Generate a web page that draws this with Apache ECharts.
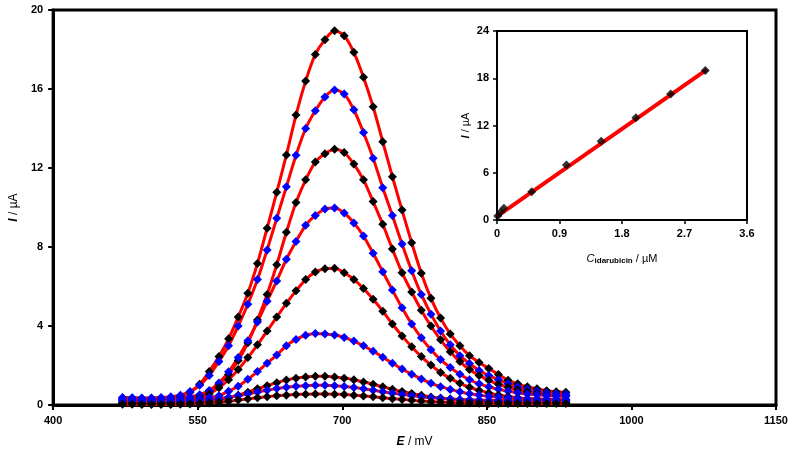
<!DOCTYPE html>
<html>
<head>
<meta charset="utf-8">
<script src="https://cdn.jsdelivr.net/npm/echarts@6/dist/echarts.min.js"></script>
<style>
  html, body { margin: 0; padding: 0; background: #fff; }
  #main { width: 800px; height: 460px; }
</style>
</head>
<body>
<div id="main"></div>
<script>
// potential (mV), one reading every 10 mV
var E = [472, 482, 492, 502, 512, 522, 532, 542, 552, 562, 572, 582, 592, 602, 612, 622,
         632, 642, 652, 662, 672, 682, 692, 702, 712, 722, 732, 742, 752, 762, 772, 782,
         792, 802, 812, 822, 832, 842, 852, 862, 872, 882, 892, 902, 912, 922, 932];

// current (uA) for each concentration
var c3_0 = [0.25, 0.24, 0.24, 0.25, 0.28, 0.35, 0.45, 0.65, 1.05, 1.7, 2.45, 3.35, 4.45, 5.66, 7.17, 8.95,
            10.77, 12.66, 14.68, 16.4, 17.75, 18.5, 18.95, 18.7, 17.86, 16.6, 15.1, 13.33, 11.56, 9.87, 8.22, 6.67,
            5.4, 4.4, 3.6, 3.0, 2.5, 2.15, 1.85, 1.55, 1.25, 1.07, 0.92, 0.82, 0.72, 0.67, 0.65];
var c2_5 = [0.38, 0.37, 0.36, 0.36, 0.38, 0.42, 0.5, 0.68, 1.0, 1.5, 2.2, 3.0, 4.0, 5.1, 6.35, 7.85,
            9.45, 11.05, 12.65, 14.0, 14.9, 15.6, 15.95, 15.75, 14.95, 13.8, 12.5, 11.0, 9.6, 8.15, 6.8, 5.6,
            4.6, 3.75, 3.05, 2.5, 2.1, 1.75, 1.5, 1.28, 1.08, 0.92, 0.8, 0.7, 0.62, 0.57, 0.55];
var c2_0 = [0.15, 0.14, 0.14, 0.15, 0.16, 0.19, 0.24, 0.33, 0.47, 0.7, 1.05, 1.55, 2.25, 3.15, 4.3, 5.6,
            7.1, 8.75, 10.25, 11.4, 12.3, 12.72, 12.95, 12.78, 12.2, 11.4, 10.3, 9.15, 7.9, 6.7, 5.72, 4.8,
            4.0, 3.3, 2.7, 2.2, 1.8, 1.5, 1.25, 1.05, 0.9, 0.77, 0.67, 0.58, 0.52, 0.47, 0.45];
var c1_5 = [0.36, 0.35, 0.34, 0.34, 0.34, 0.35, 0.37, 0.42, 0.52, 0.74, 1.12, 1.68, 2.4, 3.25, 4.2, 5.25,
            6.28, 7.38, 8.28, 9.1, 9.6, 9.92, 9.97, 9.72, 9.22, 8.56, 7.68, 6.75, 5.82, 4.92, 4.1, 3.4,
            2.8, 2.3, 1.9, 1.56, 1.28, 1.07, 0.92, 0.8, 0.7, 0.62, 0.56, 0.52, 0.48, 0.46, 0.45];
var c1_0 = [0.1, 0.09, 0.09, 0.09, 0.1, 0.12, 0.16, 0.23, 0.36, 0.56, 0.87, 1.28, 1.8, 2.4, 3.05, 3.75,
            4.45, 5.15, 5.78, 6.35, 6.73, 6.9, 6.93, 6.7, 6.36, 5.9, 5.35, 4.75, 4.1, 3.5, 2.95, 2.45,
            2.02, 1.65, 1.35, 1.1, 0.9, 0.74, 0.61, 0.51, 0.43, 0.37, 0.32, 0.28, 0.25, 0.23, 0.22];
var c0_5 = [0.3, 0.29, 0.28, 0.27, 0.27, 0.27, 0.28, 0.29, 0.32, 0.38, 0.47, 0.7, 0.95, 1.3, 1.69, 2.12,
            2.53, 3.0, 3.32, 3.53, 3.62, 3.6, 3.54, 3.42, 3.24, 3.0, 2.72, 2.42, 2.12, 1.82, 1.56, 1.32,
            1.1, 0.93, 0.79, 0.67, 0.57, 0.5, 0.44, 0.4, 0.37, 0.34, 0.32, 0.31, 0.3, 0.29, 0.29];
var c0_1 = [0.08, 0.07, 0.07, 0.07, 0.07, 0.08, 0.09, 0.11, 0.14, 0.19, 0.26, 0.36, 0.5, 0.65, 0.82, 0.98,
            1.13, 1.26, 1.36, 1.42, 1.45, 1.45, 1.42, 1.36, 1.28, 1.17, 1.05, 0.92, 0.8, 0.68, 0.58, 0.49,
            0.41, 0.35, 0.3, 0.26, 0.23, 0.2, 0.18, 0.17, 0.16, 0.15, 0.14, 0.14, 0.13, 0.13, 0.13];
var c0_05 = [0.22, 0.21, 0.2, 0.2, 0.2, 0.2, 0.21, 0.22, 0.24, 0.27, 0.32, 0.39, 0.47, 0.56, 0.66, 0.75,
             0.83, 0.9, 0.95, 0.98, 1.0, 1.0, 0.98, 0.94, 0.89, 0.82, 0.75, 0.67, 0.6, 0.53, 0.47, 0.41,
             0.37, 0.33, 0.3, 0.28, 0.26, 0.25, 0.24, 0.23, 0.23, 0.22, 0.22, 0.22, 0.22, 0.22, 0.22];
var c0_01 = [0.04, 0.04, 0.03, 0.03, 0.03, 0.03, 0.04, 0.05, 0.07, 0.1, 0.14, 0.19, 0.25, 0.31, 0.37, 0.42,
             0.47, 0.5, 0.53, 0.55, 0.56, 0.56, 0.55, 0.53, 0.5, 0.46, 0.42, 0.37, 0.32, 0.28, 0.24, 0.2,
             0.17, 0.15, 0.13, 0.11, 0.1, 0.09, 0.08, 0.08, 0.07, 0.07, 0.07, 0.07, 0.07, 0.07, 0.07];

var curves = [c3_0, c2_5, c2_0, c1_5, c1_0, c0_5, c0_1, c0_05, c0_01];
var markColors = ['#000', '#0000ff', '#000', '#0000ff', '#000', '#0000ff', '#000', '#0000ff', '#000'];

// calibration inset
var conc = [0.01, 0.05, 0.1, 0.5, 1.0, 1.5, 2.0, 2.5, 3.0];
var peak = [0.5, 1.0, 1.5, 3.6, 7.0, 10.0, 13.0, 16.0, 19.0];
var fitX = [0, 3.02];
var fitY = [0.45, 19.1];

var xTicks = [400, 550, 700, 850, 1000, 1150];

var chart = echarts.init(document.getElementById('main'));

var labelFont = { color: '#000', fontSize: 11, fontWeight: 'bold', fontFamily: 'Liberation Sans' };

var series = [];
curves.forEach(function (vals, k) {
    series.push({
        type: 'line',
        xAxisIndex: 0, yAxisIndex: 0,
        data: E.map(function (e, i) { return [e, vals[i]]; }),
        smooth: 0.3,
        symbol: 'diamond',
        symbolSize: 9,
        showSymbol: true,
        lineStyle: { color: '#ff0000', width: 3 },
        itemStyle: { color: markColors[k] },
        silent: true
    });
});
series.push({
    type: 'line',
    xAxisIndex: 1, yAxisIndex: 1,
    data: fitX.map(function (c, i) { return [c, fitY[i]]; }),
    showSymbol: false,
    lineStyle: { color: '#ff0000', width: 4 },
    z: 2
});
series.push({
    type: 'scatter',
    xAxisIndex: 1, yAxisIndex: 1,
    data: conc.map(function (c, i) { return [c, peak[i]]; }),
    symbol: 'diamond',
    symbolSize: 9,
    itemStyle: { color: '#000' },
    z: 3
});

var option = {
    animation: false,
    backgroundColor: '#fff',
    grid: [
        { left: 48, right: 24, top: 10, bottom: 55, show: true, borderColor: '#000', borderWidth: 3 },
        { left: 497, right: 53, top: 31, bottom: 240, show: true, borderColor: '#000', borderWidth: 2,
          backgroundColor: '#fff' }
    ],
    xAxis: [
        {
            gridIndex: 0, type: 'value', min: 400, max: 1150,
            name: '{i|E} / mV', nameLocation: 'middle', nameGap: 31,
            nameTextStyle: { color: '#000', fontSize: 12, fontFamily: 'Liberation Sans',
                rich: { i: { fontStyle: 'italic', fontWeight: 'bold', fontSize: 12, fontFamily: 'Liberation Sans' } } },
            axisLine: { lineStyle: { color: '#000', width: 3 } },
            axisTick: { length: 5, lineStyle: { color: '#000', width: 2 }, customValues: xTicks },
            axisLabel: Object.assign({ margin: 10, customValues: xTicks,
                formatter: function (v) { return String(v); } }, labelFont),
            splitLine: { show: false }
        },
        {
            gridIndex: 1, type: 'value', min: 0, max: 3.6, interval: 0.9,
            name: '{i|C}{s|idarubicin} / µM', nameLocation: 'middle', nameGap: 32,
            nameTextStyle: { color: '#000', fontSize: 11, fontFamily: 'Liberation Sans',
                rich: {
                    i: { fontStyle: 'italic', fontSize: 11, fontFamily: 'Liberation Sans' },
                    s: { fontSize: 8, fontWeight: 'bold', fontFamily: 'Liberation Sans', padding: [5, 0, 0, 0] }
                } },
            axisLine: { lineStyle: { color: '#000', width: 2 } },
            axisTick: { length: 4, lineStyle: { color: '#000', width: 1.5 } },
            axisLabel: Object.assign({ margin: 8 }, labelFont),
            splitLine: { show: false }
        }
    ],
    yAxis: [
        {
            gridIndex: 0, type: 'value', min: 0, max: 20, interval: 4,
            name: '{i|I} / µA', nameLocation: 'middle', nameGap: 31, nameRotate: 90,
            nameTextStyle: { color: '#000', fontSize: 12, fontFamily: 'Liberation Sans',
                rich: { i: { fontStyle: 'italic', fontWeight: 'bold', fontSize: 12, fontFamily: 'Liberation Sans' } } },
            axisLine: { lineStyle: { color: '#000', width: 3 } },
            axisTick: { length: 5, lineStyle: { color: '#000', width: 2 } },
            axisLabel: Object.assign({ margin: 10 }, labelFont),
            splitLine: { show: false }
        },
        {
            gridIndex: 1, type: 'value', min: 0, max: 24, interval: 6,
            name: '{i|I} / µA', nameLocation: 'middle', nameGap: 26, nameRotate: 90,
            nameTextStyle: { color: '#000', fontSize: 11, fontFamily: 'Liberation Sans',
                rich: { i: { fontStyle: 'italic', fontWeight: 'bold', fontSize: 11, fontFamily: 'Liberation Sans' } } },
            axisLine: { lineStyle: { color: '#000', width: 2 } },
            axisTick: { length: 4, lineStyle: { color: '#000', width: 1.5 } },
            axisLabel: Object.assign({ margin: 8 }, labelFont),
            splitLine: { show: false }
        }
    ],
    series: series
};

chart.setOption(option);
</script>
</body>
</html>
